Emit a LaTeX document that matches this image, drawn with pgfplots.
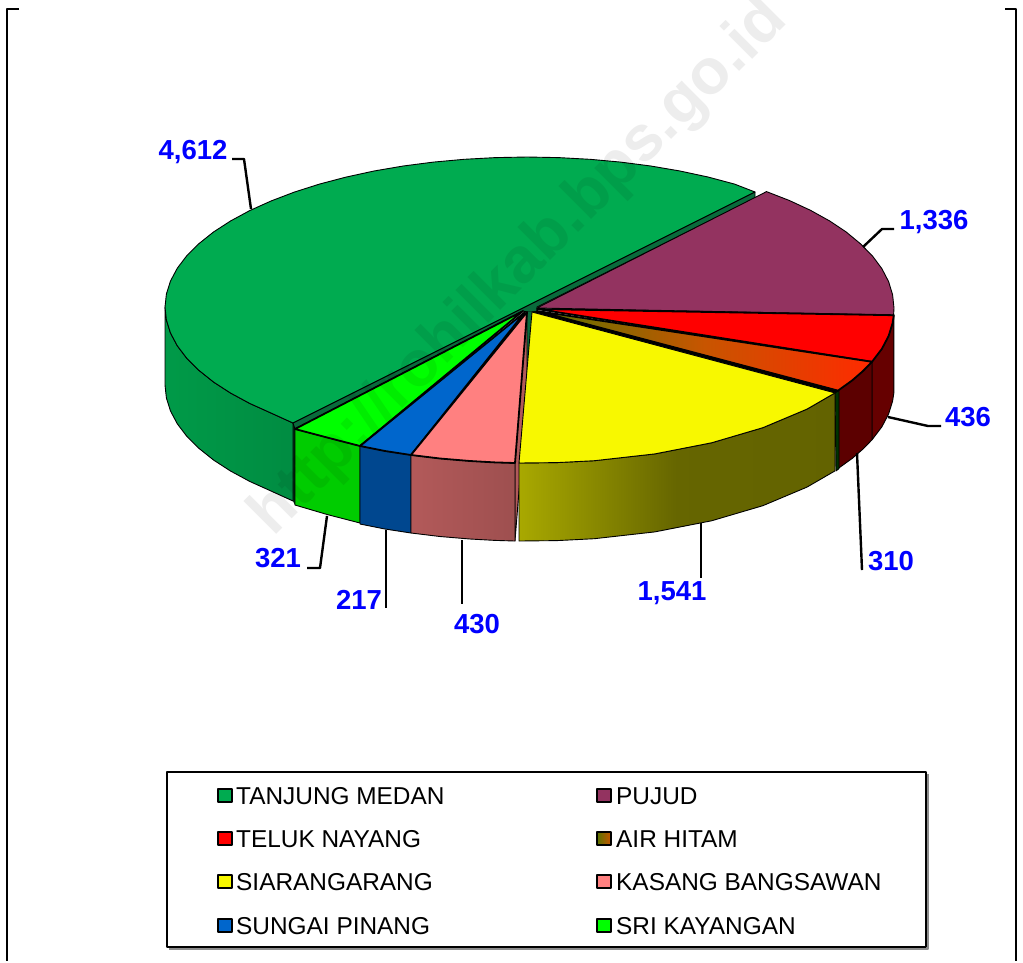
\documentclass[border=0pt]{standalone}
\usepackage{fontspec}
\setmainfont{Liberation Sans}
\usepackage{pgfplots}
\pgfplotsset{compat=1.18}

\definecolor{cgreen}{HTML}{00AB50}
\definecolor{cgreenside}{HTML}{0A6B3C}
\definecolor{cpurple}{HTML}{933360}
\definecolor{cyellow}{HTML}{F8F800}
\definecolor{cpink}{HTML}{FF8080}
\definecolor{cblue}{HTML}{0066CC}
\definecolor{clime}{HTML}{00FF00}
\definecolor{lab}{HTML}{0000FF}
\definecolor{ahleft}{HTML}{5A7400}
\definecolor{ahmid}{HTML}{C85500}
\definecolor{ahright}{HTML}{FF2A00}

\newcommand{\lab}[2]{\node[text=lab,font=\fontsize{27.5}{30}\selectfont\bfseries] at (axis cs:#1) {#2};}
\newcommand{\leg}[2]{\node[anchor=west,inner sep=0pt,font=\fontsize{24.4}{28}\selectfont] at (axis cs:#1) {#2};}

\begin{document}
\begin{tikzpicture}
\begin{axis}[
    scale only axis,
    width=1023pt, height=961pt,
    xmin=0, xmax=1023, ymin=0, ymax=961,
    y dir=reverse,
    axis lines=none,
    clip=false,
    axis background/.style={fill=white},
    every axis plot/.append style={line join=round, mark=none},
    side/.style={draw=black, line width=0.9pt},
    edge/.style={draw=black, line width=1.8pt},
    lead/.style={draw=black, line width=2.4pt},
    swatch/.style={draw=black, line width=2pt},
]

% frame corners
\addplot[lead] coordinates {(19,9) (7,9) (7,961)};
\addplot[lead] coordinates {(1005,9) (1016,9) (1016,961)};

% TANJUNG MEDAN wall and top
\addplot[side, left color=cgreen!90!black, right color=cgreen!82!black] coordinates {
    (165,307) (166.4,320) (170.5,333) (177.3,345.8) (186.8,358.3) (199,370.4) (213.5,382) (230.5,393) (249.7,403.4) (271,413) (293,423)
    (293,501) (271,491) (249.7,481.4) (230.5,471) (213.5,460) (199,448.4) (186.8,436.3) (177.3,423.8) (170.5,411) (166.4,398) (165,385)
} -- cycle;
\addplot[draw=none, fill=black!80!cgreen] coordinates {(293,423) (295,429) (295,505) (293,501)} -- cycle;
\addplot[side, fill=cgreen] coordinates {
    (755,192) (734.6,184.1) (708,177) (680,171) (650.8,166) (620.7,162.1) (589.9,159.3) (558.6,157.6) (527,157)
    (495.4,157.6) (464.1,159.3) (433.3,162.1) (403.2,166) (374,171) (346,177.1) (319.4,184.1) (294.3,192.1) (271,201)
    (249.7,210.6) (230.5,221) (213.5,232) (199,243.6) (186.8,255.7) (177.3,268.2) (170.5,281) (166.4,294) (165,307)
    (166.4,320) (170.5,333) (177.3,345.8) (186.8,358.3) (199,370.4) (213.5,382) (230.5,393) (249.7,403.4) (271,413) (293,423)
} -- cycle;
% cut face behind the hub
\addplot[side, fill=cgreenside] coordinates {
    (755,192) (755,198) (537,307) (537,312) (527,312) (523,311) (295,429) (293,423)
} -- cycle;
\addplot[draw=none, fill=cgreenside] coordinates {(527,312) (532,312) (526,385) (527,390)} -- cycle;

% KASANG BANGSAWAN cut face
\addplot[side, fill=cpink!70!black] coordinates {(527,312) (527,390) (515,541) (515,463)} -- cycle;

% SRI KAYANGAN
\addplot[side, fill=clime!80!black] coordinates {(295,429) (327.5,437.6) (360,446) (360,523) (327.5,514.6) (295,505)} -- cycle;
\addplot[edge, fill=clime] coordinates {(523,311) (295,429) (327.5,437.6) (360,446)} -- cycle;
% SUNGAI PINANG
\addplot[side, fill=cblue!70!black] coordinates {(360,446) (385,451) (411,455) (411,533) (385,529) (360,524)} -- cycle;
\addplot[edge, fill=cblue] coordinates {(525,312) (360,446) (385,451) (411,455)} -- cycle;
% KASANG BANGSAWAN
\addplot[side, left color=cpink!70!black, right color=cpink!62!black] coordinates {
    (411,455) (440,458.5) (470,461) (495,462.4) (515,463) (515,541) (495,540.4) (470,539) (440,536.5) (411,533)
} -- cycle;
\addplot[edge, fill=cpink] coordinates {(527,312) (411,455) (440,458.5) (470,461) (495,462.4) (515,463)} -- cycle;

% PUJUD
\addplot[side, fill=cpurple] coordinates {
    (537,308) (766.5,191.6) (789.4,200.5) (810.5,210.3) (829.4,220.8) (846.2,232) (860.5,243.8) (872.5,256)
    (881.9,268.7) (888.6,281.6) (892.6,294.8) (894,308) (893.6,315)
} -- cycle;

% TELUK NAYANG
\addplot[side, fill=red!40!black] coordinates {
    (893.8,315.2) (892.6,323.1) (888.6,336) (881.9,348.8) (872,361.8)
    (872,439.8) (881.9,426.8) (888.6,414) (892.6,401.1) (893.8,393.2)
} -- cycle;
\addplot[edge, fill=red] coordinates {(537,309) (893.8,315.2) (892.6,323.1) (888.6,336) (881.9,348.8) (872,361.8)} -- cycle;

% AIR HITAM
\addplot[side, fill=red!36!black] coordinates {
    (872,361.8) (863,371) (852.2,380.4) (838,390.6) (838,468.6) (852.2,458.4) (863,449) (872,439.8)
} -- cycle;
\addplot[edge, left color=ahleft, right color=ahright, middle color=ahmid] coordinates {
    (537,311) (872,361.8) (863,371) (852.2,380.4) (838,390.6)
} -- cycle;
\addplot[draw=black, line width=0.5pt, fill=black] coordinates {(537,311) (838,390.6) (835,392.9) (532,312)} -- cycle;
\addplot[side, fill=green!20!black] coordinates {(835,392.9) (839,390.6) (839,468.6) (836,470.9)} -- cycle;

% SIARANGARANG
\addplot[side, left color=cyellow!68!black, right color=cyellow!40!black, middle color=cyellow!41!black] coordinates {
    (835,392.9) (807,409.1) (762.8,427.7) (711.5,442.8) (654.8,453.9) (594.3,460.7) (557,462.6) (519,463)
    (519,541) (557,540.6) (594.3,538.7) (654.8,531.9) (711.5,520.8) (762.8,505.7) (807,487.1) (835,470.9)
} -- cycle;
\addplot[side, fill=cyellow] coordinates {
    (532,312) (835,392.9) (807,409.1) (762.8,427.7) (711.5,442.8) (654.8,453.9) (594.3,460.7) (557,462.6) (519,463)
} -- cycle;

% leader lines
\addplot[lead] coordinates {(232,159) (244,159) (251,209)};
\addplot[lead] coordinates {(894,229) (882,229) (863,247)};
\addplot[lead] coordinates {(888,417) (928,426) (941,426)};
\addplot[lead] coordinates {(857,453) (862,570)};
\addplot[lead] coordinates {(701,523) (701,578)};
\addplot[lead] coordinates {(462,540) (462,604)};
\addplot[lead] coordinates {(386,530) (386,608)};
\addplot[lead] coordinates {(327,516) (320,568) (307,568)};

% value labels
\lab{193,152}{4,612}
\lab{934,222}{1,336}
\lab{968,417}{436}
\lab{891,561}{310}
\lab{672,593}{1,541}
\lab{477,624}{430}
\lab{359,600}{217}
\lab{278,558}{321}

% legend box
\addplot[draw=black!45, line width=2pt] coordinates {(169,949) (928,949) (928,774)};
\addplot[draw=black, line width=2.4pt, fill=white] coordinates {(167,772) (926,772) (926,947) (167,947)} -- cycle;

\addplot[swatch, fill=cgreen] coordinates {(218,789) (232,789) (232,802) (218,802)} -- cycle;
\addplot[swatch, fill=red] coordinates {(218,832) (232,832) (232,845) (218,845)} -- cycle;
\addplot[swatch, fill=cyellow] coordinates {(218,875) (232,875) (232,888) (218,888)} -- cycle;
\addplot[swatch, fill=cblue] coordinates {(218,919) (232,919) (232,932) (218,932)} -- cycle;
\addplot[swatch, fill=cpurple] coordinates {(597,789) (611,789) (611,802) (597,802)} -- cycle;
\addplot[swatch, left color=ahleft, right color=ahmid] coordinates {(597,832) (611,832) (611,845) (597,845)} -- cycle;
\addplot[swatch, fill=cpink] coordinates {(597,875) (611,875) (611,888) (597,888)} -- cycle;
\addplot[swatch, fill=clime] coordinates {(597,919) (611,919) (611,932) (597,932)} -- cycle;

\leg{236,796}{TANJUNG MEDAN}
\leg{236,839}{TELUK NAYANG}
\leg{236,882}{SIARANGARANG}
\leg{236,926}{SUNGAI PINANG}
\leg{616,796}{PUJUD}
\leg{616,839}{AIR HITAM}
\leg{616,882}{KASANG BANGSAWAN}
\leg{616,926}{SRI KAYANGAN}

% watermark, kept out of the bounding box
\node[overlay, rotate=45, text=black, text opacity=0.07, font=\fontsize{64}{70}\selectfont\bfseries] at (axis cs:520,268) {http://rohilkab.bps.go.id};

\end{axis}
\end{tikzpicture}
\end{document}
